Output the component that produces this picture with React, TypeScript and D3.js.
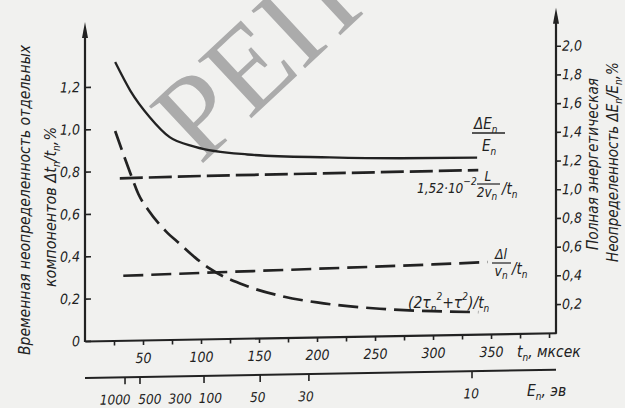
import React, { useEffect, useRef } from 'react'
import * as d3 from 'd3'

// time of flight axis, мксек
const timeTicks = [25, 50, 75, 100, 125, 150, 175, 200, 225, 250, 275, 300, 325, 350, 375, 400]
const timeLabels = [50, 100, 150, 200, 250, 300, 350]

const leftTicks = [0, 0.2, 0.4, 0.6, 0.8, 1.0, 1.2]
const rightTicks = [0.2, 0.4, 0.6, 0.8, 1.0, 1.2, 1.4, 1.6, 1.8, 2.0]

// energy scale under the time axis (positions given in мксек)
const energyLabels = ['1000', '500', '300', '100', '50', '30', '10']
const energyTickAt = [34.5, 47.4, null, 102.6, 151, 193, 333.6]
const energyLabelAt = [26, 56, 82, 108, 149, 190.5, 333]

// ΔE/E, right axis, %
const totalT = [26, 39, 56, 73, 95, 140, 211, 272, 338]
const totalDE = [1.94, 1.74, 1.55, 1.41, 1.34, 1.28, 1.25, 1.235, 1.23]

// 1,52·10^-2 L/2v / t, left axis, %
const flightT = [30, 100, 200, 339]
const flightDT = [0.765, 0.77, 0.772, 0.775]

// (2τn² + τ²)/t
const pulseT = [26, 39, 46, 55, 70, 82, 95, 108, 140, 170, 200, 254, 300, 339]
const pulseDT = [0.99, 0.79, 0.69, 0.61, 0.51, 0.45, 0.385, 0.33, 0.245, 0.195, 0.163, 0.128, 0.112, 0.104]

// Δl/v / t
const lengthT = [33, 100, 200, 300, 347]
const lengthDT = [0.305, 0.312, 0.322, 0.333, 0.34]

const INK = '#222222'
const FONT = '"DejaVu Sans Condensed", "Liberation Sans Narrow", "DejaVu Sans", sans-serif'

const fmt = (d: number) => (d === 0 ? '0' : d3.format('.1f')(d).replace('.', ','))

export default function App() {
  const leftRef = useRef<SVGGElement>(null)
  const rightRef = useRef<SVGGElement>(null)
  const bottomRef = useRef<SVGGElement>(null)

  const x0 = 85
  const x1 = 556
  const yBase = 341
  const yEnergy = 378

  const x = d3.scaleLinear().domain([0, 406]).range([x0, x1])
  const yL = d3.scaleLinear().domain([0, 1.2]).range([yBase, 87])
  const yR = d3.scaleLinear().domain([0, 2]).range([yBase, 54])

  const lineL = d3.line<[number, number]>()
    .x((d) => x(d[0]))
    .y((d) => yL(d[1]))
    .curve(d3.curveMonotoneX)
  const lineR = d3.line<[number, number]>()
    .x((d) => x(d[0]))
    .y((d) => yR(d[1]))
    .curve(d3.curveMonotoneX)

  useEffect(() => {
    const style = (g: any, keepDomain: boolean) => {
      g.selectAll('text')
        .attr('font-family', FONT)
        .attr('font-stretch', 'condensed')
        .attr('font-style', 'italic')
        .attr('font-size', 14)
        .attr('fill', INK)
      g.selectAll('.tick line').attr('stroke', INK).attr('stroke-width', 1.6)
      if (keepDomain) g.select('.domain').attr('stroke', INK).attr('stroke-width', 2.2)
      else g.select('.domain').remove()
    }

    const left = d3.select(leftRef.current)
    left.selectAll('*').remove()
    left.call(d3.axisLeft(yL).tickValues(leftTicks).tickSize(-6).tickPadding(5).tickFormat(fmt as any))
    style(left, false)

    const right = d3.select(rightRef.current)
    right.selectAll('*').remove()
    right.call(d3.axisRight(yR).tickValues(rightTicks).tickSize(5).tickPadding(1).tickFormat(fmt as any))
    style(right, false)

    const bottom = d3.select(bottomRef.current)
    bottom.selectAll('*').remove()
    bottom.call(
      d3.axisBottom(x)
        .tickValues(timeTicks)
        .tickSize(5)
        .tickSizeOuter(0)
        .tickPadding(8)
        .tickFormat((d: any) => (timeLabels.includes(d) ? String(d) : '') as any)
    )
    style(bottom, true)
  }, [])

  const skew = `translate(${x0},0) skewY(-1) translate(${-x0},0)`
  const sub = { fontSize: 10 }

  return (
    <svg width={625} height={408} style={{ position: 'absolute', left: 0, top: 0, background: '#f1f1ef' }}>
      <text
        x={200}
        y={166}
        transform="rotate(-43 200 166)"
        fontFamily='"Liberation Serif", serif'
        fontSize={120}
        fill="#ababab"
      >
        РЕПОЗИТОРИЙ
      </text>

      <g transform={skew}>
        {/* axes */}
        <g ref={leftRef} transform={`translate(${x0},0)`} />
        <g ref={rightRef} transform={`translate(${x1},0)`} />
        <g ref={bottomRef} transform={`translate(0,${yBase})`} />
        <line x1={x0} x2={x0} y1={yBase + 1} y2={30} stroke={INK} strokeWidth={2.2} />
        <path d={`M${x0},22 L${x0 - 3},38 L${x0 + 3},38 Z`} fill={INK} />
        <line x1={x1} x2={x1} y1={yBase + 1} y2={24} stroke={INK} strokeWidth={2.2} />
        <path d={`M${x1},16 L${x1 - 3},32 L${x1 + 3},32 Z`} fill={INK} />

        {/* energy scale */}
        <line x1={x0} x2={x1} y1={yEnergy} y2={yEnergy} stroke={INK} strokeWidth={2} />
        {energyTickAt.map((t, i) =>
          t === null ? null : (
            <line key={i} x1={x(t)} x2={x(t)} y1={yEnergy} y2={yEnergy + 7} stroke={INK} strokeWidth={1.6} />
          )
        )}
        {energyLabels.map((s, i) => (
          <text
            key={s}
            x={x(energyLabelAt[i])}
            y={yEnergy + 27}
            textAnchor="middle"
            fontFamily={FONT}
            fontStretch="condensed"
            fontStyle="italic"
            fontSize={13.5}
            fill={INK}
          >
            {s}
          </text>
        ))}

        {/* curves */}
        <path d={lineR(d3.zip(totalT, totalDE) as [number, number][]) || ''} fill="none" stroke={INK} strokeWidth={2.3} />
        <path d={lineL(d3.zip(flightT, flightDT) as [number, number][]) || ''} fill="none" stroke={INK} strokeWidth={2.7} strokeDasharray="23 6" />
        <path d={lineL(d3.zip(pulseT, pulseDT) as [number, number][]) || ''} fill="none" stroke={INK} strokeWidth={2.7} strokeDasharray="20 8" />
        <path d={lineL(d3.zip(lengthT, lengthDT) as [number, number][]) || ''} fill="none" stroke={INK} strokeWidth={2.7} strokeDasharray="20 8" />
      </g>

      <g fontFamily={FONT} fontStretch="condensed" fontStyle="italic" fill={INK}>
        {/* axis titles */}
        <text x={30} y={200} transform="rotate(-90 30 200)" textAnchor="middle" fontSize={16} textLength={310} lengthAdjust="spacingAndGlyphs">
          Временная неопределенность отдельных
        </text>
        <text x={56} y={207} transform="rotate(-90 56 207)" textAnchor="middle" fontSize={16}>
          компонентов Δt<tspan dy={4} style={sub}>n</tspan><tspan dy={-4}>/t</tspan><tspan dy={4} style={sub}>n</tspan><tspan dy={-4}>,%</tspan>
        </text>
        <text x={598} y={164} transform="rotate(-90 598 164)" textAnchor="middle" fontSize={15} textLength={172} lengthAdjust="spacingAndGlyphs">
          Полная энергетическая
        </text>
        <text x={618} y={162} transform="rotate(-90 618 162)" textAnchor="middle" fontSize={15}>
          Неопределенность ΔE<tspan dy={4} style={sub}>n</tspan><tspan dy={-4}>/E</tspan><tspan dy={4} style={sub}>n</tspan><tspan dy={-4}>,%</tspan>
        </text>
        <text x={517} y={357} fontSize={15.5}>
          t<tspan dy={4} style={sub}>n</tspan><tspan dy={-4}>, мксек</tspan>
        </text>
        <text x={527} y={396} fontSize={15.5}>
          E<tspan dy={4} style={sub}>n</tspan><tspan dy={-4}>, эв</tspan>
        </text>

        {/* curve labels */}
        <text x={474} y={129} fontSize={15}>
          ΔE<tspan dy={4} style={sub}>n</tspan>
        </text>
        <line x1={472} x2={505} y1={133} y2={133} stroke={INK} strokeWidth={1.3} />
        <text x={482} y={151} fontSize={15}>
          E<tspan dy={4} style={sub}>n</tspan>
        </text>

        <text x={417} y={193} fontSize={13.5}>
          1,52·10<tspan dy={-8} fontSize={10}>−2</tspan>
        </text>
        <text x={488} y={181} fontSize={13.5} textAnchor="middle">L</text>
        <line x1={477} x2={500} y1={184} y2={184} stroke={INK} strokeWidth={1.2} />
        <text x={487} y={197} fontSize={13.5} textAnchor="middle">
          2v<tspan dy={3} style={sub}>n</tspan>
        </text>
        <text x={502} y={194} fontSize={15}>
          /t<tspan dy={4} style={sub}>n</tspan>
        </text>

        <text x={501} y={259} fontSize={14} textAnchor="middle">Δl</text>
        <line x1={492} x2={511} y1={263} y2={263} stroke={INK} strokeWidth={1.2} />
        <text x={501} y={276} fontSize={14} textAnchor="middle">
          v<tspan dy={3} style={sub}>n</tspan>
        </text>
        <text x={512} y={274} fontSize={15}>
          /t<tspan dy={4} style={sub}>n</tspan>
        </text>

        <text x={408} y={308} fontSize={15.5}>
          (2τ<tspan dy={4} style={sub}>n</tspan><tspan dy={-12} style={sub}>2</tspan><tspan dy={8}>+τ</tspan><tspan dy={-8} style={sub}>2</tspan><tspan dy={8}>)/t</tspan><tspan dy={4} style={sub}>n</tspan>
        </text>
      </g>
    </svg>
  )
}
